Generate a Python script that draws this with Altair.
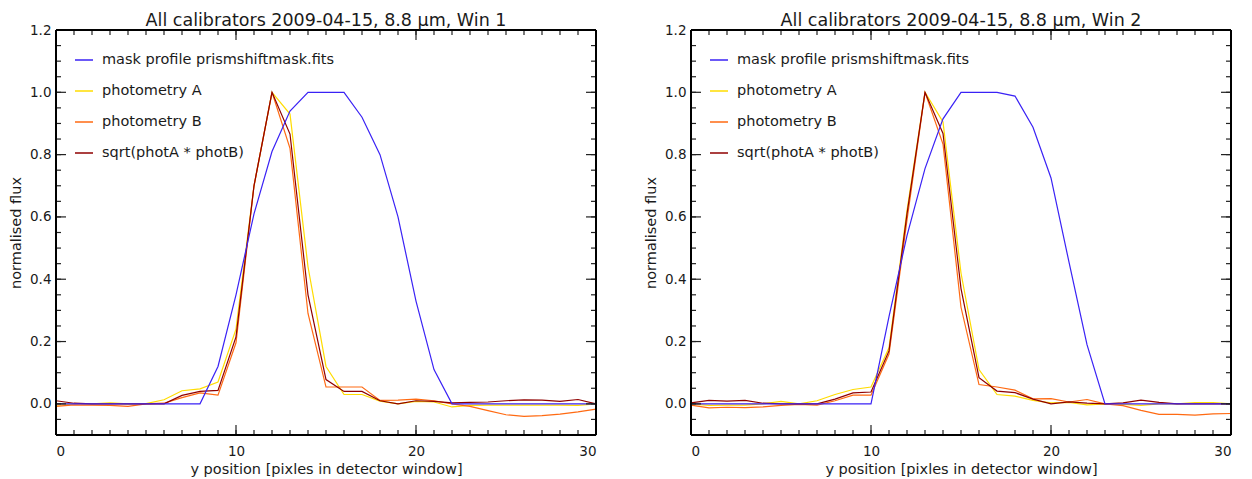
import altair as alt
import pandas as pd

# ---------------- data ----------------
y_pos = list(range(31))

series_names = ["mask profile prismshiftmask.fits", "photometry A", "photometry B", "sqrt(photA * photB)"]
series_colors = ["#3a22f5", "#ffdc00", "#ff6a12", "#8f0000"]

titles = ["All calibrators 2009-04-15, 8.8 μm, Win 1", "All calibrators 2009-04-15, 8.8 μm, Win 2"]

x_tick_labels = [0, 10, 20, 30]
y_tick_labels = [0.0, 0.2, 0.4, 0.6, 0.8, 1.0, 1.2]
x_minor = list(range(31))
y_minor = [round(-0.1 + 0.05 * i, 2) for i in range(27)]

win1_mask = [0, 0, 0, 0, 0, 0, 0, 0, 0, 0.12, 0.35, 0.61, 0.81, 0.94, 1.0, 1.0, 1.0, 0.92, 0.80, 0.60,
             0.33, 0.11, 0, 0, 0, 0, 0, 0, 0, 0, 0]
win1_photA = [-0.004, 0.0, 0.0, 0.003, 0.0, 0.001, 0.013, 0.042, 0.048, 0.07, 0.24, 0.70, 1.0, 0.93, 0.44,
              0.12, 0.03, 0.03, 0.009, 0.0, 0.008, 0.006, -0.01, -0.005, -0.004, -0.004, -0.004, -0.004,
              -0.004, -0.005, 0.0]
win1_photB = [-0.008, -0.003, -0.004, -0.005, -0.008, 0.0, 0.002, 0.02, 0.035, 0.028, 0.196, 0.70, 1.0, 0.82,
              0.29, 0.054, 0.054, 0.054, 0.011, 0.012, 0.015, 0.01, 0.0, -0.008, -0.022, -0.035, -0.04,
              -0.038, -0.033, -0.026, -0.017]
win1_sqrt = [0.01, 0.002, 0.0, 0.0, 0.0, 0.0, 0.0, 0.027, 0.04, 0.043, 0.215, 0.70, 1.0, 0.866, 0.35, 0.078,
             0.04, 0.04, 0.01, 0.0, 0.01, 0.008, 0.003, 0.005, 0.006, 0.01, 0.013, 0.012, 0.008, 0.014, 0.0]

win2_mask = [0, 0, 0, 0, 0, 0, 0, 0, 0, 0, 0, 0.28, 0.54, 0.755, 0.915, 1.0, 1.0, 1.0, 0.988, 0.888, 0.725,
             0.455, 0.19, 0, 0, 0, 0, 0, 0, 0, 0]
win2_photA = [0.0, -0.005, -0.004, -0.004, 0.0, 0.008, 0.0, 0.01, 0.03, 0.046, 0.054, 0.18, 0.62, 1.0, 0.905,
              0.42, 0.11, 0.03, 0.025, 0.011, 0.003, 0.005, -0.003, 0.0, -0.002, -0.005, 0.0, 0.0, 0.004,
              0.004, 0.0]
win2_photB = [-0.004, -0.013, -0.011, -0.012, -0.01, -0.005, -0.002, -0.004, 0.01, 0.028, 0.028, 0.16, 0.59,
              1.0, 0.834, 0.31, 0.062, 0.054, 0.044, 0.016, 0.017, 0.006, 0.014, 0.0, -0.006, -0.021, -0.034,
              -0.034, -0.036, -0.032, -0.031]
win2_sqrt = [0.003, 0.011, 0.009, 0.011, 0.002, 0.0, 0.0, 0.0, 0.015, 0.035, 0.038, 0.17, 0.61, 1.0, 0.868,
             0.37, 0.084, 0.041, 0.036, 0.015, 0.0, 0.006, 0.002, 0.0, 0.003, 0.012, 0.005, 0.0, 0.0, 0.0, 0.0]

# ---------------- layout ----------------
W, H = 540, 405
FONT = "DejaVu Sans"
TXT = "#1a1a1a"


def long_df(names, arrays):
    rows = []
    for n, arr in zip(names, arrays):
        for xv, fv in zip(y_pos, arr):
            rows.append({"y_pos": xv, "flux": fv, "series": n})
    return pd.DataFrame(rows)


def panel(title, mask, pa, pb, sq):
    x_enc = alt.X("y_pos:Q",
                  scale=alt.Scale(domain=[0, 30], nice=False, zero=False),
                  axis=alt.Axis(values=x_tick_labels, title="y position [pixles in detector window]",
                                grid=False, ticks=False, tickSize=0, domain=False, labelPadding=9,
                                titlePadding=5, labelFontSize=13.5, titleFontSize=14.5,
                                titleFontWeight="normal", labelColor=TXT, titleColor=TXT,
                                labelFont=FONT, titleFont=FONT))
    y_enc = alt.Y("flux:Q",
                  scale=alt.Scale(domain=[-0.1, 1.2], nice=False, zero=False),
                  axis=alt.Axis(values=y_tick_labels, format=".1f", title="normalised flux",
                                grid=False, ticks=False, tickSize=0, domain=False, labelPadding=5,
                                titlePadding=6, labelFontSize=13.5, titleFontSize=14.5,
                                titleFontWeight="normal", labelColor=TXT, titleColor=TXT,
                                labelFont=FONT, titleFont=FONT))
    color = alt.Color("series:N",
                      scale=alt.Scale(domain=series_names, range=series_colors),
                      legend=alt.Legend(title=None, orient="none", legendX=18, legendY=20,
                                        symbolType="stroke", symbolSize=324, symbolStrokeWidth=1.5,
                                        labelFontSize=14.5, labelFont=FONT, labelColor=TXT, labelOffset=8,
                                        rowPadding=14, padding=0, labelLimit=400))

    phot_df = long_df(series_names[1:], [pa, pb, sq])
    mask_df = long_df(series_names[:1], [mask])

    phot = alt.Chart(phot_df).mark_line(strokeWidth=1.2).encode(x=x_enc, y=y_enc, color=color)
    msk = alt.Chart(mask_df).mark_line(strokeWidth=1.2).encode(x=x_enc, y=y_enc, color=color)

    xmaj = pd.DataFrame({"y_pos": x_tick_labels})
    xmin = pd.DataFrame({"y_pos": x_minor})
    ymaj = pd.DataFrame({"flux": y_tick_labels})
    ymin = pd.DataFrame({"flux": y_minor})

    tk = dict(color="#222", strokeWidth=1.2)
    layers = [phot, msk]
    for dfx, L in ((xmin, 5), (xmaj, 10)):
        layers.append(alt.Chart(dfx).mark_rule(**tk).encode(x=x_enc, y=alt.value(H), y2=alt.value(H - L)))
        layers.append(alt.Chart(dfx).mark_rule(**tk).encode(x=x_enc, y=alt.value(0), y2=alt.value(L)))
    for dfy, L in ((ymin, 5), (ymaj, 10)):
        layers.append(alt.Chart(dfy).mark_rule(**tk).encode(y=y_enc, x=alt.value(0), x2=alt.value(L)))
        layers.append(alt.Chart(dfy).mark_rule(**tk).encode(y=y_enc, x=alt.value(W), x2=alt.value(W - L)))

    # frame around the plot area
    fr = dict(color="#000", strokeWidth=1.6)
    layers.append(alt.Chart(xmaj).mark_rule(**fr).encode(x=alt.value(0), x2=alt.value(W), y=alt.value(0)))
    layers.append(alt.Chart(xmaj).mark_rule(**fr).encode(x=alt.value(0), x2=alt.value(W), y=alt.value(H)))
    layers.append(alt.Chart(xmaj).mark_rule(**fr).encode(y=alt.value(0), y2=alt.value(H), x=alt.value(0)))
    layers.append(alt.Chart(xmaj).mark_rule(**fr).encode(y=alt.value(0), y2=alt.value(H), x=alt.value(W)))

    return alt.layer(*layers).properties(
        width=W, height=H,
        title=alt.TitleParams(title, frame="group", anchor="middle", fontSize=17.5, font=FONT,
                              fontWeight="normal", color=TXT, offset=-6.5))


left = panel(titles[0], win1_mask, win1_photA, win1_photB, win1_sqrt)
right = panel(titles[1], win2_mask, win2_photA, win2_photB, win2_sqrt)

chart = alt.hconcat(left, right, spacing=95, bounds="flush").resolve_scale(
    color="independent").resolve_legend(color="independent").properties(
    padding={"top": 3, "left": 0, "right": 0, "bottom": 0}).configure_view(
    stroke=None).configure(background="white")

chart.save("out.html", embed_options={"renderer": "svg", "actions": False})
